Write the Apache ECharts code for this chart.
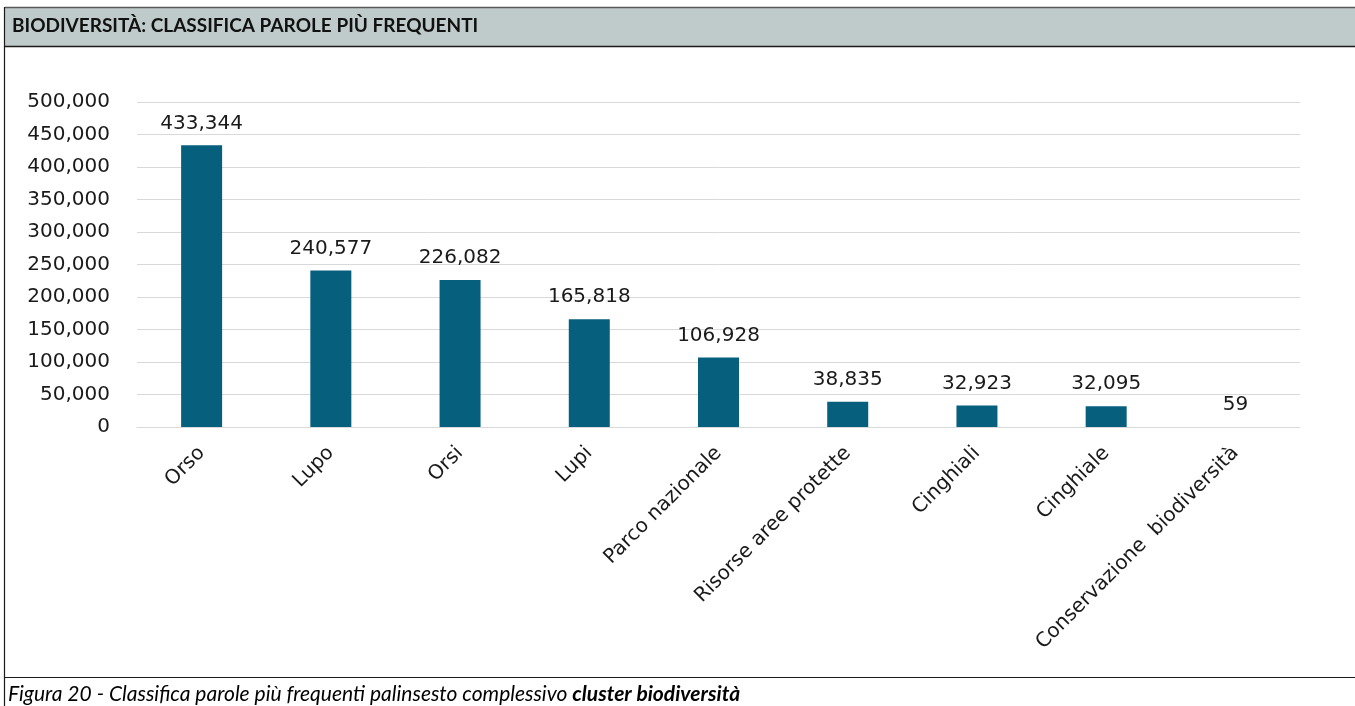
<!DOCTYPE html>
<html>
<head>
<meta charset="utf-8">
<script src="https://cdn.jsdelivr.net/npm/echarts@6/dist/echarts.min.js"></script>
<style>
  html, body { margin: 0; padding: 0; background: #ffffff; }
  #chart { width: 1355px; height: 706px; }
</style>
</head>
<body>
<div id="chart"></div>
<script>
// Word ranking for the biodiversity cluster
const categories = [
  'Orso', 'Lupo', 'Orsi', 'Lupi', 'Parco nazionale',
  'Risorse aree protette', 'Cinghiali', 'Cinghiale', 'Conservazione  biodiversità'
];
const counts = [433344, 240577, 226082, 165818, 106928, 38835, 32923, 32095, 59];

const headerTitle = 'BIODIVERSITÀ: CLASSIFICA PAROLE PIÙ FREQUENTI';
const captionPlain = 'Figura 20 - Classifica parole più frequenti palinsesto complessivo ';
const captionBold = 'cluster biodiversità';

const fmt = v => Number(v).toLocaleString('en-US');

const chart = echarts.init(document.getElementById('chart'), null, { renderer: 'canvas' });

chart.setOption({
  backgroundColor: '#ffffff',
  animation: false,
  graphic: [
    // header band and frame
    { type: 'rect', shape: { x: 5, y: 7, width: 1355, height: 39 },
      style: { fill: '#bfcbca', stroke: null }, z: 0 },
    { type: 'line', shape: { x1: 5, y1: 7.5, x2: 1355, y2: 7.5 },
      style: { stroke: '#5a5a5a', lineWidth: 1.5 } },
    { type: 'line', shape: { x1: 5, y1: 46.5, x2: 1355, y2: 46.5 },
      style: { stroke: '#1a1a1a', lineWidth: 1.5 } },
    { type: 'line', shape: { x1: 4.5, y1: 7, x2: 4.5, y2: 706 },
      style: { stroke: '#1a1a1a', lineWidth: 1.2 } },
    { type: 'line', shape: { x1: 5, y1: 677.5, x2: 1355, y2: 677.5 },
      style: { stroke: '#1a1a1a', lineWidth: 1.2 } },
    { type: 'text', left: 12, top: 16,
      style: { text: headerTitle, font: 'bold 19px Lato', fill: '#111111' } },
    { type: 'text', left: 8, top: 684,
      style: {
        text: '{a|' + captionPlain + '}{b|' + captionBold + '}',
        rich: {
          a: { fontFamily: 'Lato', fontStyle: 'italic', fontSize: 21, color: '#111111' },
          b: { fontFamily: 'Lato', fontStyle: 'italic', fontWeight: 'bold', fontSize: 21, color: '#111111' }
        }
      } }
  ],
  grid: { left: 137, right: 55, top: 102, bottom: 279, containLabel: false },
  xAxis: {
    type: 'category',
    data: categories,
    axisLine: { show: true, lineStyle: { color: '#d9d9d9', width: 1 } },
    axisTick: { show: false },
    axisLabel: {
      interval: 0, rotate: 45, margin: 23,
      fontFamily: 'DejaVu Sans', fontSize: 20, color: '#1a1a1a'
    }
  },
  yAxis: {
    type: 'value',
    min: 0, max: 500000, interval: 50000,
    axisLine: { show: false },
    axisTick: { show: false },
    splitLine: { lineStyle: { color: '#d9d9d9', width: 1 } },
    axisLabel: {
      margin: 27, formatter: fmt,
      fontFamily: 'DejaVu Sans', fontSize: 20, color: '#1a1a1a'
    }
  },
  series: [{
    type: 'bar',
    data: counts,
    barWidth: 41,
    itemStyle: { color: '#075f7e' },
    label: {
      show: true, position: 'top', distance: 12,
      formatter: p => fmt(p.value),
      fontFamily: 'DejaVu Sans', fontSize: 20, color: '#1a1a1a'
    }
  }]
});
</script>
</body>
</html>
